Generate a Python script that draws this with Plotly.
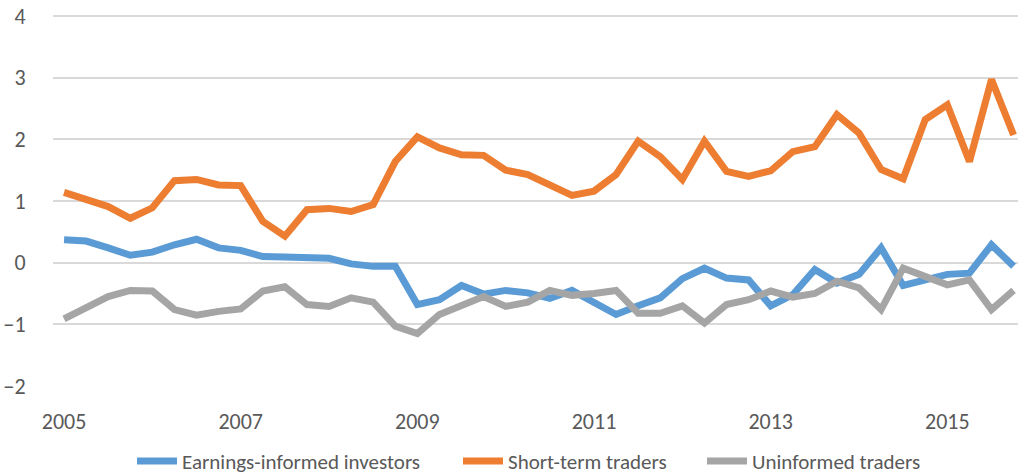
import plotly.graph_objects as go

# quarterly periods 2005Q1 .. 2015Q4
quarters = [f"{y} Q{q}" for y in range(2005, 2016) for q in range(1, 5)]
tick_years = ["2005", "2007", "2009", "2011", "2013", "2015"]

earnings_informed = [
    0.37, 0.35, 0.24, 0.12, 0.17, 0.29, 0.38, 0.24, 0.20, 0.10,
    0.09, 0.07, 0.07, -0.02, -0.06, -0.06, -0.68, -0.60, -0.37, -0.51,
    -0.45, -0.49, -0.58, -0.45, -0.65, -0.84, -0.70, -0.57, -0.26, -0.09,
    -0.25, -0.28, -0.70, -0.52, -0.11, -0.33, -0.19, 0.24, -0.37, -0.28,
    -0.19, -0.17, 0.29, -0.06,
]
short_term = [
    1.14, 1.03, 0.91, 0.72, 0.89, 1.33, 1.35, 1.26, 1.25, 0.67,
    0.43, 0.86, 0.88, 0.83, 0.94, 1.64, 2.04, 1.86, 1.75, 1.74,
    1.50, 1.43, 1.26, 1.09, 1.16, 1.43, 1.97, 1.72, 1.35, 1.97,
    1.48, 1.40, 1.49, 1.80, 1.88, 2.40, 2.10, 1.51, 1.36, 2.32,
    2.56, 1.64, 2.97, 2.07,
]
uninformed = [
    -0.91, -0.73, -0.55, -0.45, -0.46, -0.76, -0.85, -0.79, -0.75, -0.46,
    -0.39, -0.68, -0.71, -0.57, -0.64, -1.03, -1.15, -0.84, -0.70, -0.55,
    -0.71, -0.64, -0.45, -0.53, -0.50, -0.45, -0.82, -0.82, -0.70, -0.98,
    -0.68, -0.60, -0.46, -0.56, -0.50, -0.30, -0.41, -0.76, -0.09, -0.23,
    -0.36, -0.28, -0.76, -0.45,
]

series = [
    ("Earnings-informed investors", earnings_informed, "#5B9BD5"),
    ("Short-term traders", short_term, "#ED7D31"),
    ("Uninformed traders", uninformed, "#A5A5A5"),
]

FONT = "Calibri, Carlito, Lato, sans-serif"
# one legend per series so the gaps between entries match the original
legend_ids = ["legend", "legend2", "legend3"]
legend_left = [132, 458, 702]

fig = go.Figure()
for (name, values, color), lid in zip(series, legend_ids):
    fig.add_trace(go.Scatter(
        x=quarters,
        y=values,
        mode="lines",
        name=name,
        legend=lid,
        showlegend=True,
        line=dict(color=color, width=7),
    ))

legend_style = dict(
    orientation="h",
    xref="container", yref="container",
    xanchor="left",
    y=0.029, yanchor="middle",
    font=dict(size=21, color="#595959"),
    itemwidth=40,
    bgcolor="rgba(0,0,0,0)",
    visible=True,
)

fig.update_layout(
    width=1018,
    height=475,
    showlegend=True,
    margin=dict(l=53, r=0, t=15, b=89, autoexpand=False),
    plot_bgcolor="white",
    paper_bgcolor="white",
    font=dict(family=FONT, size=21, color="#595959"),
    **{lid: dict(legend_style, x=left / 1018) for lid, left in zip(legend_ids, legend_left)},
)
fig.update_xaxes(
    type="category",
    range=[-0.5, 43.2],
    tickmode="array",
    tickvals=[f"{y} Q1" for y in tick_years],
    ticktext=tick_years,
    showgrid=False,
    showline=False,
    ticks="outside",
    ticklen=16,
    tickcolor="rgba(0,0,0,0)",
    tickfont=dict(size=22),
    automargin=False,
)
fig.update_yaxes(
    range=[-2, 4.0163],
    tickvals=[-2, -1, 0, 1, 2, 3, 4],
    showgrid=True,
    gridcolor="#D9D9D9",
    gridwidth=1.5,
    zeroline=False,
    showline=False,
    ticks="outside",
    ticklen=22,
    tickcolor="rgba(0,0,0,0)",
    tickfont=dict(size=22),
    automargin=False,
)

# drop the page's default body margin so the figure sits at the window's corner
fig.write_html(
    "out.html",
    config={"displayModeBar": False},
    post_script="document.body.style.margin='0';",
)
